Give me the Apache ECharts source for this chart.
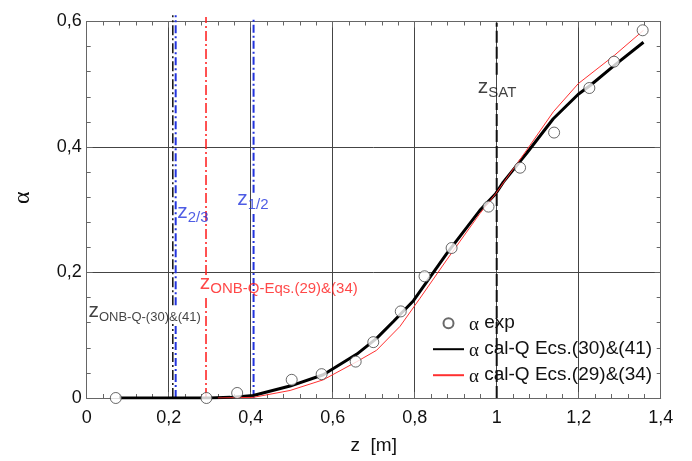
<!DOCTYPE html>
<html>
<head>
<meta charset="utf-8">
<script src="https://cdn.jsdelivr.net/npm/echarts@6/dist/echarts.min.js"></script>
<style>
html,body{margin:0;padding:0;background:#fff;}
#chart{width:692px;height:461px;}
</style>
</head>
<body>
<div id="chart"></div>
<script>
// ---- data ----
const expZ     = [0.071, 0.292, 0.367, 0.500, 0.573, 0.656, 0.699, 0.766, 0.824, 0.890, 0.980, 1.057, 1.140, 1.226, 1.286, 1.356];
const expAlpha = [0.000, 0.000, 0.008, 0.029, 0.038, 0.058, 0.089, 0.138, 0.194, 0.239, 0.305, 0.367, 0.423, 0.494, 0.536, 0.586];

const cal3041Z = [0.08, 0.20, 0.30, 0.35, 0.406, 0.496, 0.577, 0.659, 0.707, 0.748, 0.797, 0.878, 0.959, 0.998, 1.016, 1.073, 1.138, 1.199, 1.228, 1.287, 1.358];
const cal3041A = [0.000, 0.000, 0.000, 0.001, 0.004, 0.019, 0.037, 0.070, 0.095, 0.122, 0.155, 0.230, 0.299, 0.326, 0.344, 0.390, 0.445, 0.484, 0.498, 0.530, 0.567];

const cal2934Z = [0.32, 0.406, 0.496, 0.577, 0.659, 0.707, 0.764, 0.813, 0.878, 0.959, 0.998, 1.073, 1.138, 1.199, 1.287, 1.358];
const cal2934A = [0.000, 0.001, 0.012, 0.029, 0.058, 0.076, 0.114, 0.159, 0.220, 0.294, 0.326, 0.395, 0.456, 0.501, 0.546, 0.586];

// vertical reference positions z [m]
const zOnb3041 = 0.210;
const z23      = 0.217;
const zOnb2934 = 0.291;
const z12      = 0.407;
const zSat     = 1.000;

const seriesNames = ['α exp', 'α cal-Q Ecs.(30)&(41)', 'α cal-Q Ecs.(29)&(34)'];
const xTickValues = [0, 0.2, 0.4, 0.6, 0.8, 1, 1.2, 1.4];
const yTickValues = [0, 0.2, 0.4, 0.6];

// ---- build ----
const zip = (a, b) => a.map((v, i) => [v, b[i]]);
const fmt = v => parseFloat((+v).toFixed(2)).toString().replace('.', ',');
const FONT = 'Liberation Sans, Arial, sans-serif';

function vline(z, top, gaps, color, width, dash) {
  const d = [[z, 0]];
  gaps.forEach(g => { d.push([z, g[0]]); d.push([z, '-']); d.push([z, g[1]]); });
  d.push([z, top]);
  return {
    type: 'line', data: d, symbol: 'none', silent: true, clip: false,
    connectNulls: false, z: 1,
    lineStyle: { color: color, width: width, type: dash }
  };
}

function anno(z, a, text, color, subSize) {
  return {
    type: 'scatter', silent: true, symbolSize: 1, z: 5,
    itemStyle: { color: 'rgba(0,0,0,0)' },
    data: [[z, a]],
    label: {
      show: true, position: 'right', distance: 0,
      formatter: text,
      rich: {
        z: { fontSize: 21, lineHeight: 26, fontFamily: FONT, color: color },
        s: { fontSize: subSize, lineHeight: 14, verticalAlign: 'bottom', fontFamily: FONT, color: color }
      }
    }
  };
}

const axisCommon = {
  type: 'value',
  axisLine: { show: true, onZero: false, lineStyle: { color: '#666', width: 1 } },
  axisTick: { show: true, inside: true, length: 6, lineStyle: { color: '#666' } },
  minorTick: { show: false },
  splitLine: { show: false }
};

// tick-only axes (minor ticks every 0.04, drawn inside the frame)
function tickAxis(pos, max) {
  return {
    type: 'value', position: pos, min: 0, max: max, interval: 0.04,
    axisLine: { show: false, onZero: false },
    axisTick: { show: true, inside: true, length: 4, lineStyle: { color: '#666' } },
    axisLabel: { show: false }, splitLine: { show: false }, minorTick: { show: false }
  };
}

const blue = '#2233dd';
const red = '#ff1a1a';

const option = {
  animation: false,
  backgroundColor: '#fff',
  grid: { left: 86.7, right: 31.3, top: 21.5, bottom: 63 },
  textStyle: { fontFamily: FONT },
  xAxis: [
    Object.assign({}, axisCommon, {
      position: 'bottom', min: 0, max: 1.4, interval: 0.2,
      splitLine: { show: true, lineStyle: { color: '#444', width: 1 } },
      axisLabel: { fontSize: 18, color: '#111', margin: 11, fontFamily: FONT,
        formatter: v => xTickValues.some(t => Math.abs(t - v) < 1e-6) ? fmt(v) : '' },
      name: 'z  [m]', nameLocation: 'middle', nameGap: 38,
      nameTextStyle: { fontSize: 19, color: '#111', fontFamily: FONT }
    }),
    Object.assign({}, axisCommon, {
      position: 'top', min: 0, max: 1.4, interval: 0.2, axisLabel: { show: false }
    }),
    tickAxis('bottom', 1.4),
    tickAxis('top', 1.4)
  ],
  yAxis: [
    Object.assign({}, axisCommon, {
      position: 'left', min: 0, max: 0.6, interval: 0.2,
      splitLine: { show: true, lineStyle: { color: '#444', width: 1 } },
      axisLabel: { fontSize: 18, color: '#111', margin: 5, fontFamily: FONT,
        formatter: v => yTickValues.some(t => Math.abs(t - v) < 1e-6) ? fmt(v) : '' },
      name: 'α', nameLocation: 'middle', nameRotate: 90, nameGap: 52,
      nameTextStyle: { fontSize: 24, color: '#111', fontFamily: 'Liberation Serif, serif', padding: [0, 0, 0, 24] }
    }),
    Object.assign({}, axisCommon, {
      position: 'right', min: 0, max: 0.6, interval: 0.2, axisLabel: { show: false }
    }),
    tickAxis('left', 0.6),
    tickAxis('right', 0.6)
  ],
  legend: {
    show: true, orient: 'vertical', left: 427, top: 306.7,
    itemWidth: 31, itemHeight: 10, itemGap: 3,
    data: [
      { name: seriesNames[0] },
      { name: seriesNames[1], itemStyle: { opacity: 0 } },
      { name: seriesNames[2], itemStyle: { opacity: 0 } }
    ],
    formatter: n => n.replace('α', '{a|α}'),
    textStyle: {
      fontSize: 19, lineHeight: 20, color: '#111', fontFamily: FONT,
      rich: { a: { fontSize: 19, lineHeight: 20, fontFamily: 'Liberation Serif, serif', color: '#111', padding: [4, 0, 0, 0] } }
    }
  },
  series: [
    vline(zOnb3041, 0.61, [[0.118, 0.148]], '#111', 1.5, [10, 3, 2, 3]),
    vline(z23, 0.61, [[0.118, 0.148]], blue, 2, [8, 3, 2, 3]),
    vline(zOnb2934, 0.607, [[0.163, 0.196]], red, 1.5, [10, 3, 2, 3]),
    vline(z12, 0.607, [[0.294, 0.327]], blue, 2, [8, 3, 2, 3]),
    vline(zSat, 0.598, [[0.47, 0.515]], '#111', 2, [12, 4]),
    {
      name: seriesNames[1], type: 'line', data: zip(cal3041Z, cal3041A),
      symbol: 'none', showSymbol: false, z: 3,
      lineStyle: { color: '#000', width: 3 }, itemStyle: { color: '#000' }
    },
    {
      name: seriesNames[2], type: 'line', data: zip(cal2934Z, cal2934A),
      symbol: 'none', showSymbol: false, z: 3,
      lineStyle: { color: '#ff3030', width: 1 }, itemStyle: { color: '#ff3030' }
    },
    {
      name: seriesNames[0], type: 'scatter', data: zip(expZ, expAlpha),
      symbol: 'circle', symbolSize: 11, z: 4,
      itemStyle: { color: '#fff', borderColor: '#444', borderWidth: 1 }
    },
    anno(0.003, 0.138, '{z|z}{s|ONB-Q-(30)&(41)}', '#111', 13),
    anno(0.2195, 0.296, '{z|z}{s|2/3}', blue, 15),
    anno(0.366, 0.317, '{z|z}{s|1/2}', blue, 15),
    anno(0.2745, 0.183, '{z|z}{s|ONB-Q-Eqs.(29)&(34)}', red, 15),
    anno(0.9527, 0.495, '{z|z}{s|SAT}', '#111', 15)
  ]
};

const chart = echarts.init(document.getElementById('chart'), null, { renderer: 'canvas' });
chart.setOption(option);
</script>
</body>
</html>
